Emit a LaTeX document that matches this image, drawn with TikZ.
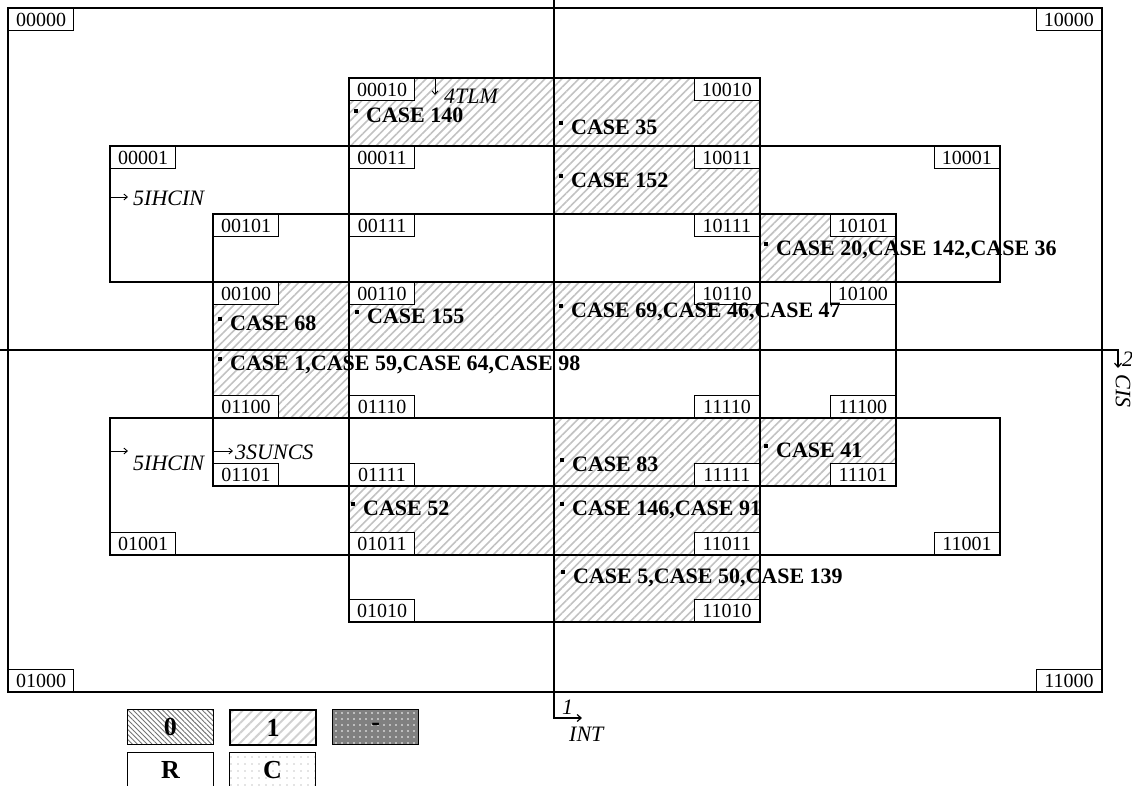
\documentclass[tikz,border=0pt]{standalone}
\usepackage{fontspec}
\setmainfont{Liberation Serif}
\usetikzlibrary{patterns.meta,arrows.meta}
\tikzset{
  grid/.style={line width=1.2pt, draw=black},
  hatch/.style={pattern={Lines[angle=45,distance=6pt,line width=1.6pt]}, pattern color=black!24},
  lbl/.style={draw, line width=1.1pt, fill=white, minimum width=65pt, minimum height=22pt, inner sep=0pt, font=\fontsize{20}{20}\selectfont},
  casetxt/.style={inner sep=0pt, anchor=base west, font=\fontsize{22}{24}\selectfont\bfseries},
  vartxt/.style={inner sep=0pt, anchor=base west, font=\fontsize{22}{24}\selectfont\itshape},
  varr/.style={line width=0.9pt, -{Straight Barb[length=3.5pt,width=6pt]}},
  axarr/.style={line width=1.2pt, -{Straight Barb[length=4pt,width=7pt]}},
  leg/.style={draw, line width=1.2pt, minimum width=86pt, minimum height=35pt, inner sep=0pt, anchor=north west, font=\fontsize{26}{28}\selectfont\bfseries},
}
\newcommand\bul{\raisebox{9pt}{\rule{4pt}{4pt}}\hspace{8pt}}
\begin{document}
\begin{tikzpicture}[x=1pt,y=-1pt]
\useasboundingbox (0,0) rectangle (1132,785);
\clip (0,0) rectangle (1132,785);
% hatched cells
\foreach \a/\b/\c/\d in {349/78/760/146, 554/146/760/214, 760/214/896/282, 213/282/349/418, 349/282/760/350, 554/418/896/486, 349/486/760/555, 554/555/760/622}
  \path[hatch] (\a,\b) rectangle (\c,\d);
% frames
\draw[grid] (8,8) rectangle (1102,692);
\draw[grid] (110,146) rectangle (1000,282);
\draw[grid] (110,418) rectangle (1000,555);
\draw[grid] (349,78) rectangle (760,622);
\draw[grid] (213,214) rectangle (896,486);
% axes
\coordinate (vtop) at (554,0);
\coordinate (vbend) at (554,718);
\coordinate (vend) at (582,718);
\draw[axarr] (vtop) -- (vbend) -- (vend);
\coordinate (hleft) at (0,350);
\coordinate (hbend) at (1118,350);
\coordinate (hend) at (1118,368);
\draw[axarr] (hleft) -- (hbend) -- (hend);
\node[vartxt] (one) at (562,714) {1};
\node[vartxt] (int) at (569,741) {INT};
\node[vartxt] (two) at (1122,366) {2};
\node[inner sep=0pt, font=\fontsize{22}{24}\selectfont\itshape, rotate=-90] (cis) at (1123,391) {CIS};
% variable markers
\coordinate (a4s) at (435,78); \coordinate (a4e) at (435,95);
\draw[varr] (a4s) -- (a4e);
\node[vartxt] (v4) at (444,103) {4TLM};
\coordinate (a5s) at (110,197); \coordinate (a5e) at (128,197);
\draw[varr] (a5s) -- (a5e);
\node[vartxt] (v5) at (133,205) {5IHCIN};
\coordinate (b5s) at (110,451); \coordinate (b5e) at (128,451);
\draw[varr] (b5s) -- (b5e);
\node[vartxt] (w5) at (133,470) {5IHCIN};
\coordinate (a3s) at (213,451); \coordinate (a3e) at (233,451);
\draw[varr] (a3s) -- (a3e);
\node[vartxt] (v3) at (235,459) {3SUNCS};
% cell labels
\foreach \n/\x/\y in {00000/8/8, 00010/349/78, 00001/110/146, 00011/349/146, 00101/213/214, 00111/349/214, 00100/213/282, 00110/349/282}
  \node[lbl, anchor=north west] (c\n) at (\x,\y) {\n};
\foreach \n/\x/\y in {10000/1102/8, 10010/760/78, 10011/760/146, 10001/1000/146, 10111/760/214, 10101/896/214, 10110/760/282, 10100/896/282}
  \node[lbl, anchor=north east] (c\n) at (\x,\y) {\n};
\foreach \n/\x/\y in {01100/213/418, 01110/349/418, 01101/213/486, 01111/349/486, 01001/110/555, 01011/349/555, 01010/349/622, 01000/8/692}
  \node[lbl, anchor=south west] (c\n) at (\x,\y) {\n};
\foreach \n/\x/\y in {11110/760/418, 11100/896/418, 11111/760/486, 11101/896/486, 11011/760/555, 11001/1000/555, 11010/760/622, 11000/1102/692}
  \node[lbl, anchor=south east] (c\n) at (\x,\y) {\n};
% cases
\node[casetxt] (k1) at (354,122) {\bul CASE 140};
\node[casetxt] (k2) at (559,134) {\bul CASE 35};
\node[casetxt] (k3) at (559,187) {\bul CASE 152};
\node[casetxt] (k4) at (764,255) {\bul CASE 20,CASE 142,CASE 36};
\node[casetxt] (k5) at (559,317) {\bul CASE 69,CASE 46,CASE 47};
\node[casetxt] (k6) at (218,330) {\bul CASE 68};
\node[casetxt] (k7) at (355,323) {\bul CASE 155};
\node[casetxt] (k8) at (218,370) {\bul CASE 1,CASE 59,CASE 64,CASE 98};
\node[casetxt] (k9) at (560,471) {\bul CASE 83};
\node[casetxt] (k10) at (764,457) {\bul CASE 41};
\node[casetxt] (k11) at (351,515) {\bul CASE 52};
\node[casetxt] (k12) at (560,515) {\bul CASE 146,CASE 91};
\node[casetxt] (k13) at (561,583) {\bul CASE 5,CASE 50,CASE 139};
% legend
\node[leg, pattern={Lines[angle=-45,distance=3.5pt,line width=0.9pt]}, pattern color=black!55] (l0) at (127,709) {0};
\node[leg, pattern={Lines[angle=45,distance=7pt,line width=2pt]}, pattern color=black!18] (l1) at (229,709) {1};
\node[leg, preaction={fill=black!50}, pattern={Dots[radius=0.8pt,distance=6pt]}, pattern color=white] (ld) at (332,709) {-};
\node[leg] (lr) at (127,752) {R};
\node[leg, pattern={Dots[radius=0.6pt,distance=7pt]}, pattern color=black!45] (lc) at (229,752) {C};
\end{tikzpicture}
\end{document}
